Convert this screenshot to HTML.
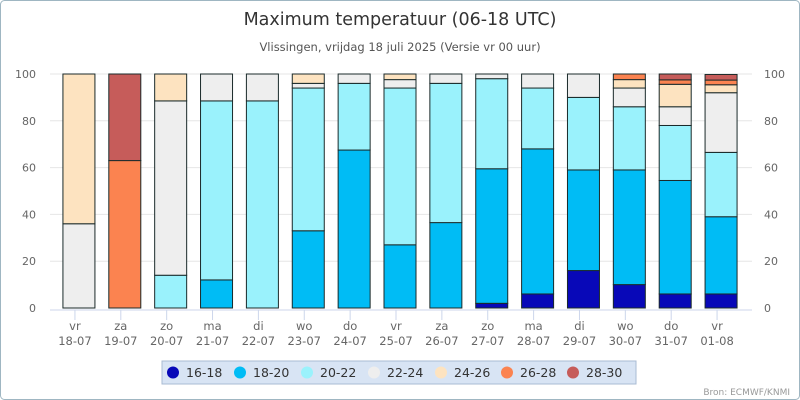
<!DOCTYPE html>
<html><head><meta charset="utf-8"><style>
body{margin:0;background:#fff;font-family:"DejaVu Sans","Liberation Sans",sans-serif}
#wrap{position:relative;width:800px;height:400px;overflow:hidden}
svg text{font-family:"DejaVu Sans","Liberation Sans",sans-serif}
</style></head><body>
<div id="wrap">
<svg id="chart" width="800" height="400"></svg>
</div>
<script>
const categories=["vr|18-07","za|19-07","zo|20-07","ma|21-07","di|22-07","wo|23-07","do|24-07","vr|25-07","za|26-07","zo|27-07","ma|28-07","di|29-07","wo|30-07","do|31-07","vr|01-08"];
const seriesNames=["16-18","18-20","20-22","22-24","24-26","26-28","28-30"];
const seriesColors=["#0808b8","#00bcf5","#9af2fc","#eeeeee","#fde3c0","#fb8350","#c65c5a"];
const s1618=[0,0,0,0,0,0,0,0,0,2,6,16,10,6,6];
const s1820=[0,0,0,12,0,33,67.5,27,36.5,57.5,62,43,49,48.5,33];
const s2022=[0,0,14,76.5,88.5,61,28.5,67,59.5,38.5,26,31,27,23.5,27.5];
const s2224=[36,0,74.5,11.5,11.5,2,4,3.6,4,2,6,10,8,8,25.5];
const s2426=[64,0,11.5,0,0,4,0,2.4,0,0,0,0,3.6,9.6,3.4];
const s2628=[0,63,0,0,0,0,0,0,0,0,0,0,2.4,1.9,2];
const s2830=[0,37,0,0,0,0,0,0,0,0,0,0,0,2.5,2.4];
const yTicks=[0,20,40,60,80,100];
const series=[s1618,s1820,s2022,s2224,s2426,s2628,s2830];
const NS="http://www.w3.org/2000/svg";
const svg=document.getElementById('chart');
function mk(t,a,txt){const e=document.createElementNS(NS,t);for(const k in a)e.setAttribute(k,a[k]);if(txt!==undefined)e.textContent=txt;svg.appendChild(e);return e;}
const x0=56,x1=744,yTop=74,yBot=308;
const step=(x1-x0)/categories.length;
const xc=i=>x0+step*(i+0.5);
const y=v=>yBot-(yBot-yTop)*v/100;
let e;
e=mk('rect',{x:0.5,y:0.5,width:799,height:399,rx:4,fill:'#fff',stroke:'#9fb6c2'});


e=mk('text',{x:400,y:25,'text-anchor':'middle','font-size':17.5,fill:'#333'},'Maximum temperatuur (06-18 UTC)');


e=mk('text',{x:400,y:51,'text-anchor':'middle','font-size':11.5,fill:'#555'},'Vlissingen, vrijdag 18 juli 2025 (Versie vr 00 uur)');


yTicks.forEach(t=>{
 if(t>0){e=mk('line',{x1:50,x2:752,y1:y(t),y2:y(t),stroke:'#e6e6e6'});
 
 }
 e=mk('text',{x:36,y:y(t)+4,'text-anchor':'end','font-size':11,fill:'#666'},t);
 
 
 e=mk('text',{x:764,y:y(t)+4,'text-anchor':'start','font-size':11,fill:'#666'},t);
 
 
});
categories.forEach((c,i)=>{
 let base=0;
 series.forEach((s,k)=>{
  const v=s[i]; if(v<=0)return;
  e=mk('rect',{x:xc(i)-16,y:y(base+v),width:32,height:y(base)-y(base+v),fill:seriesColors[k],stroke:'#1a2a2a','stroke-width':1});
  
  
  base+=v;
 });
 const p=c.split('|');
 e=mk('line',{x1:xc(i)-4,x2:xc(i)-4,y1:yBot+2,y2:yBot+12,stroke:'#ccd6eb'});
 
 
 e=mk('text',{x:xc(i)-4,y:330,'text-anchor':'middle','font-size':11.5,fill:'#666'},p[0]);
 
 
 e=mk('text',{x:xc(i)-4,y:345,'text-anchor':'middle','font-size':11.5,fill:'#666'},p[1]);
 
 
});
e=mk('line',{x1:50,x2:752,y1:yBot+2,y2:yBot+2,stroke:'#ccd6eb'});


e=mk('rect',{x:162,y:361,width:474,height:23,fill:'#d8e4f4',stroke:'#a9bbd3'});


const lx=[173,240,307,374,441,507,573];
seriesNames.forEach((n,k)=>{
 e=mk('circle',{cx:lx[k],cy:372.5,r:6,fill:seriesColors[k]});
 
 
 e=mk('text',{x:lx[k]+13,y:377,'font-size':12.5,fill:'#333'},n);
 
 
});
e=mk('text',{x:790,y:395,'text-anchor':'end','font-size':9,fill:'#999'},'Bron: ECMWF/KNMI');


</script>
</body></html>
